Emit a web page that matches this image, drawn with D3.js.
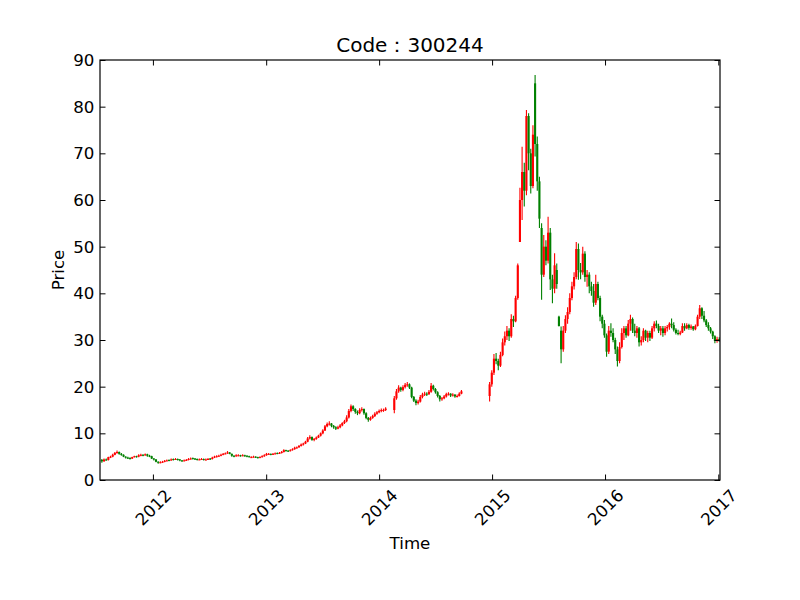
<!DOCTYPE html>
<html><head><meta charset="utf-8">
<script src="https://cdn.jsdelivr.net/npm/d3@7"></script>
<style>body{margin:0;background:#fff} text{font-family:"DejaVu Sans",sans-serif;fill:#000}</style>
</head><body><svg id="c" width="800" height="600"></svg>
<script>
// ---- data (weekly candles) ----
const title = "Code：300244";
const xLabel = "Time";
const yLabel = "Price";
const firstWeek = "2011-07-20";
const xDomain = ["2011-07-14", "2017-01-06T12:00"];
const yDomain = [0, 90];
const yTicks = [0,10,20,30,40,50,60,70,80,90];
const xTickYears = [2012,2013,2014,2015,2016,2017];
const N = null;
const open = [
4.3,4.0,4.4,4.3,4.9,5.0,5.4,5.8,6.0,5.6,
5.4,5.0,4.8,4.7,4.6,4.9,5.1,5.0,5.3,5.4,
5.3,5.5,5.2,5.1,4.6,4.4,3.9,3.7,3.8,3.9,
4.1,4.3,4.2,4.5,4.4,4.5,4.4,4.2,4.1,4.2,
4.3,4.5,4.7,4.6,4.5,4.3,4.4,4.5,4.3,4.4,
4.6,4.5,4.8,5.0,5.1,5.2,5.4,5.6,5.7,5.9,
5.6,5.2,5.1,5.2,5.3,5.2,5.3,5.2,5.1,4.8,
4.9,5.0,4.9,4.8,4.9,5.1,5.3,5.5,5.6,5.5,
5.6,5.8,5.7,5.8,6.0,6.4,6.3,6.2,6.4,6.6,
6.9,7.0,7.3,7.6,7.8,8.2,8.9,9.2,8.6,8.8,
9.1,9.5,10.0,10.6,11.5,12.0,12.1,11.6,11.3,11.0,
11.3,11.7,12.2,12.6,13.4,14.8,15.8,15.2,14.6,14.3,
15.0,15.2,14.3,13.3,12.9,13.3,13.7,14.2,14.5,14.8,
14.9,15.0,N,N,N,15.0,17.5,19.0,19.8,19.3,
19.9,20.4,20.5,19.8,17.8,17.0,16.5,16.8,17.8,18.3,
18.5,18.4,18.9,20.2,19.5,18.8,18.0,17.3,17.5,17.9,
18.4,18.5,18.1,18.3,17.9,18.0,18.5,N,N,N,
N,N,N,N,N,N,N,N,N,18.0,
20.5,23.0,26.0,25.5,24.5,26.8,29.5,30.8,32.0,30.8,
34.5,34.0,39.0,51.0,60.0,66.0,62.0,78.0,70.0,63.0,
85.0,72.0,64.0,54.0,44.0,50.0,47.0,53.0,43.0,41.0,
45.0,35.0,32.0,28.0,32.0,34.5,36.0,39.0,41.5,43.5,
49.5,45.0,44.5,48.5,43.5,44.0,41.5,40.5,38.0,42.0,
39.0,35.0,33.5,31.0,27.5,32.0,31.5,30.0,28.0,25.5,
28.5,31.5,32.5,31.0,33.5,34.5,32.0,31.5,32.5,29.5,
30.0,32.0,30.5,31.5,30.5,32.5,33.5,33.0,32.0,32.5,
31.5,32.5,32.8,33.5,33.2,32.2,31.5,31.3,31.6,33.0,
32.5,33.2,32.6,32.9,32.3,33.0,35.0,36.8,35.2,34.2,
33.2,32.5,31.8,30.8,29.8,30.2];
const high = [
4.5,4.6,4.6,5.0,5.2,5.6,6.0,6.3,6.1,5.8,
5.5,5.1,5.0,4.9,5.0,5.2,5.2,5.5,5.6,5.5,
5.7,5.6,5.4,5.2,4.7,4.5,4.0,4.0,4.1,4.3,
4.4,4.4,4.6,4.6,4.7,4.6,4.5,4.3,4.4,4.5,
4.7,4.8,4.8,4.7,4.6,4.6,4.7,4.6,4.6,4.7,
4.7,5.0,5.2,5.3,5.4,5.6,5.8,5.9,6.2,6.0,
5.7,5.3,5.5,5.5,5.4,5.5,5.4,5.3,5.2,5.1,
5.2,5.1,5.0,5.1,5.3,5.5,5.8,5.8,5.7,5.8,
5.9,5.9,6.0,6.2,6.6,6.5,6.4,6.6,6.8,7.1,
7.2,7.5,7.8,8.0,8.4,9.2,9.6,9.3,9.0,9.3,
9.7,10.2,10.9,11.8,12.3,12.6,12.2,11.8,11.5,11.6,
12.0,12.4,12.9,13.9,15.2,16.2,16.0,15.4,14.9,15.4,
15.6,15.3,14.5,13.5,13.6,14.0,14.5,14.8,15.1,15.3,
15.3,15.6,N,N,N,18.0,19.5,20.3,20.0,20.3,
20.8,21.0,20.7,20.0,18.0,17.3,17.2,18.2,18.7,18.9,
18.8,19.3,20.8,20.4,19.7,19.0,18.2,17.8,18.2,18.7,
18.8,18.6,18.6,18.4,18.3,18.8,19.3,N,N,N,
N,N,N,N,N,N,N,N,N,21.0,
23.5,27.0,27.2,26.0,27.5,30.3,31.8,33.0,32.5,35.5,
35.2,39.5,46.4,62.6,71.4,68.0,79.3,78.6,71.0,76.0,
86.8,73.6,65.0,55.0,52.5,51.4,56.4,54.0,44.0,48.6,
46.4,35.2,32.9,33.0,35.3,37.0,40.0,42.5,44.5,51.0,
50.7,46.5,50.0,49.0,45.0,44.5,42.5,42.0,44.0,42.5,
39.5,35.4,34.3,31.4,33.0,33.6,32.5,30.5,28.6,29.5,
32.5,33.0,33.0,34.3,35.4,34.8,33.5,33.0,32.8,30.8,
32.5,32.2,32.0,32.0,33.0,34.0,34.2,33.5,33.0,33.0,
33.0,33.2,33.8,34.6,33.8,32.5,32.2,32.0,33.6,33.6,
33.6,33.5,33.3,33.0,33.3,35.4,37.5,37.0,36.2,34.5,
33.8,32.8,32.0,31.0,30.7,30.6];
const low = [
3.7,3.9,4.1,4.2,4.7,4.9,5.3,5.6,5.4,5.2,
4.9,4.6,4.5,4.4,4.5,4.8,4.8,4.9,5.1,5.1,
5.2,5.0,4.9,4.5,4.2,3.8,3.5,3.6,3.7,3.8,
4.0,4.0,4.1,4.2,4.3,4.2,4.0,3.9,4.0,4.1,
4.2,4.4,4.4,4.3,4.2,4.3,4.3,4.2,4.2,4.3,
4.3,4.4,4.7,4.8,5.0,5.1,5.3,5.5,5.6,5.5,
5.0,4.9,5.0,5.1,5.0,5.1,5.0,4.9,4.8,4.7,
4.8,4.7,4.6,4.7,4.8,5.0,5.2,5.4,5.3,5.4,
5.5,5.5,5.6,5.7,5.9,6.1,6.0,6.1,6.3,6.5,
6.7,6.9,7.2,7.4,7.7,8.1,8.7,8.4,8.3,8.6,
9.0,9.3,9.8,10.5,11.3,11.7,11.3,11.0,10.7,10.9,
11.1,11.5,12.0,12.4,13.2,14.5,14.8,14.2,13.9,14.1,
14.7,14.0,13.0,12.5,12.7,13.1,13.5,14.0,14.3,14.5,
14.6,14.8,N,N,N,14.3,17.2,18.7,18.9,19.0,
19.6,20.0,19.5,17.5,16.7,16.0,16.2,16.6,17.5,18.0,
18.0,18.2,18.7,19.2,18.5,17.7,16.8,17.0,17.3,17.7,
18.1,17.8,17.9,17.6,17.7,17.9,18.4,N,N,N,
N,N,N,N,N,N,N,N,N,16.8,
20.0,22.5,24.8,23.5,24.2,26.5,28.8,30.0,29.8,30.5,
32.8,33.8,38.6,51.0,55.7,58.6,61.0,66.4,61.4,62.5,
69.3,62.0,54.0,38.6,43.5,46.0,46.4,40.7,37.9,40.0,
41.0,32.9,25.0,27.5,31.5,33.5,35.5,38.5,40.8,43.0,
42.9,43.0,44.0,42.5,41.4,40.0,39.5,37.1,37.5,38.5,
34.0,32.5,30.5,26.4,27.0,30.7,29.5,27.0,24.3,25.0,
28.2,30.0,30.5,30.8,32.0,31.5,30.8,30.5,28.6,28.8,
29.5,29.8,29.5,29.8,30.2,31.8,32.5,31.5,31.0,30.7,
31.0,31.8,32.2,32.5,31.8,31.2,31.0,31.0,31.5,32.0,
32.3,32.2,32.2,32.0,32.1,32.9,34.5,34.5,33.8,32.8,
32.0,31.4,30.2,29.3,29.4,29.6];
const close = [
4.0,4.4,4.3,4.9,5.0,5.4,5.8,6.0,5.6,5.4,
5.0,4.8,4.7,4.6,4.9,5.1,5.0,5.3,5.4,5.3,
5.5,5.2,5.1,4.6,4.4,3.9,3.7,3.8,3.9,4.1,
4.2,4.2,4.4,4.4,4.5,4.4,4.2,4.1,4.2,4.3,
4.5,4.6,4.6,4.5,4.4,4.4,4.5,4.3,4.4,4.5,
4.5,4.8,5.0,5.1,5.2,5.4,5.6,5.7,5.9,5.6,
5.2,5.1,5.3,5.3,5.2,5.3,5.2,5.1,4.9,4.9,
5.0,4.9,4.8,4.9,5.1,5.3,5.6,5.6,5.5,5.6,
5.7,5.7,5.8,6.0,6.4,6.3,6.2,6.4,6.6,6.9,
7.0,7.3,7.6,7.8,8.2,8.9,9.2,8.6,8.8,9.1,
9.5,10.0,10.6,11.5,12.0,12.1,11.6,11.3,11.0,11.3,
11.7,12.2,12.6,13.4,14.8,15.8,15.2,14.6,14.3,15.0,
15.2,14.3,13.3,12.9,13.3,13.7,14.2,14.5,14.8,15.0,
15.0,15.3,N,N,N,17.5,19.0,19.8,19.3,19.9,
20.4,20.5,19.8,17.8,17.0,16.5,16.8,17.8,18.3,18.5,
18.4,18.9,20.2,19.5,18.8,18.0,17.3,17.5,17.9,18.4,
18.5,18.1,18.3,17.9,18.0,18.5,19.0,N,N,N,
N,N,N,N,N,N,N,N,N,20.5,
23.0,26.0,25.5,24.5,26.8,29.5,30.8,32.0,30.8,34.5,
34.0,39.0,46.0,60.0,66.0,62.0,78.0,70.0,63.0,74.0,
72.0,64.0,56.0,44.0,50.0,47.0,53.0,43.0,41.0,46.0,
42.0,33.0,28.0,32.0,34.5,36.0,39.0,41.5,43.5,49.5,
45.0,44.5,48.5,43.5,44.0,41.5,40.5,38.0,42.0,39.0,
35.0,33.5,31.0,27.5,32.0,31.5,30.0,28.0,25.5,28.5,
31.5,32.5,31.0,33.5,34.5,32.0,31.5,32.5,29.5,30.0,
32.0,30.5,31.5,30.5,32.5,33.5,33.0,32.0,32.5,31.5,
32.5,32.8,33.5,33.2,32.2,31.5,31.3,31.6,33.0,32.5,
33.2,32.6,32.9,32.3,33.0,35.0,36.8,35.2,34.2,33.2,
32.5,31.8,30.8,29.8,30.2,30.0];
const upColor = "#ff0000", downColor = "#008000";

// ---- drawing ----
const svg = d3.select("#c");
const W = 800, H = 600;
const m = {left:100, right:720, top:60, bottom:480};
const x = d3.scaleTime().domain(xDomain.map(s => new Date(s))).range([m.left, m.right]);
const y = d3.scaleLinear().domain(yDomain).range([m.bottom, m.top]);
const t0 = new Date(firstWeek + "T00:00");
const rows = open.map((o, i) => ({
  date: d3.timeDay.offset(t0, 7 * i), o, h: high[i], l: low[i], c: close[i]
})).filter(d => d.o != null);

svg.append("rect").attr("width", W).attr("height", H).attr("fill", "#fff");
svg.append("defs").append("clipPath").attr("id", "clip")
  .append("rect").attr("x", m.left).attr("y", m.top)
  .attr("width", m.right - m.left).attr("height", m.bottom - m.top);

const plot = svg.append("g").attr("clip-path", "url(#clip)");
const bw = 2.1;
const col = d => d.c >= d.o ? upColor : downColor;
plot.selectAll("line.wick").data(rows).join("line").attr("class", "wick")
  .attr("x1", d => x(d.date)).attr("x2", d => x(d.date))
  .attr("y1", d => y(d.h)).attr("y2", d => y(d.l))
  .attr("stroke", col).attr("stroke-width", 1.1);
plot.selectAll("rect.body").data(rows).join("rect").attr("class", "body")
  .attr("x", d => x(d.date) - bw / 2).attr("width", bw)
  .attr("y", d => y(Math.max(d.o, d.c)))
  .attr("height", d => Math.max(1, Math.abs(y(d.o) - y(d.c))))
  .attr("fill", col);

const fs = 16.67, tl = 5.5, pad = 5.6;
const yearDates = xTickYears.map(yr => new Date(yr, 0, 1));

const axesG = svg.append("g");
axesG.append("g").attr("transform", `translate(${m.left},0)`)
  .call(d3.axisLeft(y).tickValues(yTicks).tickSize(-tl).tickPadding(pad).tickFormat(d3.format("d")));
axesG.append("g").attr("transform", `translate(${m.right},0)`)
  .call(d3.axisRight(y).tickValues(yTicks).tickSize(-tl).tickFormat(""));
axesG.append("g").attr("transform", `translate(0,${m.top})`)
  .call(d3.axisTop(x).tickValues(yearDates).tickSize(-tl).tickFormat(""));
const bottomAxis = axesG.append("g").attr("transform", `translate(0,${m.bottom})`)
  .call(d3.axisBottom(x).tickValues(yearDates).tickSize(-tl).tickFormat(d3.timeFormat("%Y")));
axesG.selectAll(".domain").remove();
axesG.selectAll(".tick line").attr("stroke", "#000").attr("stroke-width", 1);
axesG.selectAll("text").attr("font-family", "DejaVu Sans").attr("fill", "#000")
  .style("font-size", fs + "px");
bottomAxis.selectAll("text")
  .attr("y", 0).attr("dy", "0.35em").attr("text-anchor", "middle")
  .attr("transform", "translate(0,27.3) rotate(-45)");

svg.append("rect").attr("x", m.left).attr("y", m.top)
  .attr("width", m.right - m.left).attr("height", m.bottom - m.top)
  .attr("fill", "none").attr("stroke", "#000").attr("stroke-width", 1.2);

svg.append("text").attr("x", (m.left + m.right) / 2).attr("y", 52)
  .attr("text-anchor", "middle").style("font-size", "20px").text(title);
svg.append("text").attr("x", (m.left + m.right) / 2).attr("y", 549)
  .attr("text-anchor", "middle").style("font-size", fs + "px").text(xLabel);
svg.append("text").attr("transform", `translate(64,${(m.top + m.bottom) / 2}) rotate(-90)`)
  .attr("text-anchor", "middle").style("font-size", fs + "px").text(yLabel);
</script></body></html>
